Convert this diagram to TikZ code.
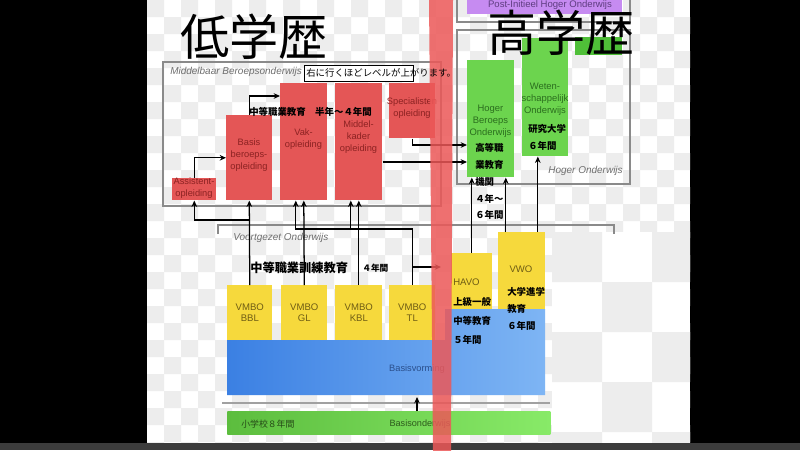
\documentclass[tikz,border=0pt]{standalone}
\usepackage{fontspec}
\setmainfont{Liberation Sans}
\newfontfamily\cjk{Noto Sans CJK JP}
\usetikzlibrary{arrows.meta}

\definecolor{mboRed}{HTML}{E45656}
\definecolor{mboText}{HTML}{8C2222}
\definecolor{hoGreen}{HTML}{6CD44E}
\definecolor{hoDark}{HTML}{4FBF38}
\definecolor{hoText}{HTML}{2B6E1E}
\definecolor{vmboYellow}{HTML}{F6D93C}
\definecolor{vmboText}{HTML}{6E5C14}
\definecolor{bvLeft}{HTML}{3B80E3}
\definecolor{bvRight}{HTML}{7EB5F4}
\definecolor{bvText}{HTML}{2A4F8C}
\definecolor{boLeft}{HTML}{5CBD3E}
\definecolor{boRight}{HTML}{88EA68}
\definecolor{boText}{HTML}{2D5A1C}
\definecolor{postPurple}{HTML}{C68BF1}
\definecolor{postText}{HTML}{5E3C80}
\definecolor{frameGray}{HTML}{8A8A8A}
\definecolor{labelGray}{HTML}{6E6E6E}
\definecolor{checkGray}{HTML}{EDEDED}
\definecolor{bandRed}{HTML}{EC5858}
\definecolor{barGray}{HTML}{3C3C3C}

\begin{document}
\begin{tikzpicture}[x=0.025cm, y=-0.025cm,
    box/.style ={rectangle, inner sep=0pt, anchor=north west},
    redbox/.style ={box, fill=mboRed},
    greenbox/.style ={box, fill=hoGreen},
    yellowbox/.style ={box, fill=vmboYellow, text=vmboText, align=center,
        font=\fontsize{6.8}{8.2}\selectfont},
    frame/.style ={draw=frameGray, line width=0.8pt},
    rtxt/.style ={inner sep=0pt, text=mboText, align=center,
        font=\fontsize{6.6}{8.6}\selectfont},
    gtxt/.style ={inner sep=0pt, text=hoText, align=center,
        font=\fontsize{6.7}{8.4}\selectfont},
    jtxt/.style ={inner sep=0pt, anchor=north west, align=left},
    frametxt/.style ={inner sep=0pt, text=labelGray,
        font=\fontsize{7.1}{8}\selectfont\itshape},
    arr/.style ={line width=0.9pt, -{Stealth[length=4.5pt,width=4pt]}}]
   \useasboundingbox (0,0) rectangle (800,450);
   % screen and checker background
   \fill[black] (0,0) rectangle (800,450);
   \fill[white] (147,0) rectangle (690,443);
   \begin{scope}
      \clip (147,0) rectangle (690,443);
      \foreach \y in {0,34,...,442}
         \foreach \x in {147,181,...,690}
            \fill[checkGray] (\x,\y) rectangle ++(17,17) (\x+17,\y+17) rectangle ++(17,17);
      \fill[white] (552,232) rectangle (690,443);
      \foreach \y in {232,332,432}
         \foreach \x in {552,652}
            \fill[checkGray] (\x,\y) rectangle ++(50,50) (\x+50,\y+50) rectangle ++(50,50);
   \end{scope}
   \fill[barGray] (0,443) rectangle (800,450);

   % frames
   \draw[frame] (457,-3) |- (630,22) -- (630,-3);
   \draw[frame] (457,30) rectangle (630,184);
   \draw[frame] (163,62) rectangle (441,206);
   \draw[frame] (218,234) |- (614,225) -- (614,234);
   \node[frametxt, anchor=west] (mbo-l) at (170,72) {Middelbaar Beroepsonderwijs};
   \node[frametxt, anchor=east] (ho-l) at (623,171) {Hoger Onderwijs};
   \node[frametxt, anchor=west] (vo-l) at (233,238) {Voortgezet Onderwijs};

   % hoger onderwijs
   \node[box, fill=postPurple, minimum width=3.875cm, minimum height=0.4cm] (post) at (467,-2) {};
   \node[inner sep=0pt, text=postText, font=\fontsize{6.8}{8}\selectfont] (post-t) at (550,5) {Post-Initieel Hoger Onderwijs};
   \node[greenbox, minimum width=1.175cm, minimum height=2.925cm] (hbo) at (467,60) {};
   \node[greenbox, minimum width=1.15cm, minimum height=2.95cm] (wo) at (522,38) {};
   \node[box, fill=hoDark, minimum width=1.175cm, minimum height=0.45cm] (extra) at (575,37) {};
   \node[gtxt] (hbo-t) at (490.5,121) {Hoger\\Beroeps\\Onderwijs};
   \node[gtxt] (wo-t) at (545,99) {Weten-\\schappelijk\\Onderwijs};

   % middelbaar beroepsonderwijs
   \node[redbox, minimum width=1.1cm, minimum height=0.55cm] (assist) at (172,178) {};
   \node[redbox, minimum width=1.15cm, minimum height=2.125cm] (basis) at (226,115) {};
   \node[redbox, minimum width=1.175cm, minimum height=2.925cm] (vak) at (280,83) {};
   \node[redbox, minimum width=1.175cm, minimum height=2.925cm] (mk) at (335,83) {};
   \node[redbox, minimum width=1.15cm, minimum height=1.375cm] (spec) at (389,83) {};
   \node[rtxt] (assist-t) at (194,188) {Assistent-\\opleiding};
   \node[rtxt] (basis-t) at (249,155) {Basis\\beroeps-\\opleiding};
   \node[rtxt] (vak-t) at (303.5,139) {Vak-\\opleiding};
   \node[rtxt] (mk-t) at (358.5,137) {Middel-\\kader\\opleiding};
   \node[rtxt] (spec-t) at (412,108) {Specialisten\\opleiding};

   % voortgezet onderwijs
   \node[yellowbox, minimum width=1.125cm, minimum height=1.375cm] (vbbl) at (227,285) {VMBO\\BBL};
   \node[yellowbox, minimum width=1.15cm, minimum height=1.375cm] (vgl) at (281,285) {VMBO\\GL};
   \node[yellowbox, minimum width=1.175cm, minimum height=1.375cm] (vkbl) at (335,285) {VMBO\\KBL};
   \node[yellowbox, minimum width=1.15cm, minimum height=1.375cm] (vtl) at (389,285) {VMBO\\TL};
   \node[yellowbox, minimum width=1.025cm, minimum height=1.4cm] (havo) at (451,253) {};
   \node[yellowbox, minimum width=1.175cm, minimum height=1.95cm] (vwo) at (498,232) {};
   \node[inner sep=0pt, anchor=west, text=vmboText, font=\fontsize{6.8}{8}\selectfont] (havo-t) at (453,282) {HAVO};
   \node[inner sep=0pt, text=vmboText, font=\fontsize{6.8}{8}\selectfont] (vwo-t) at (521,269) {VWO};

   % basisvorming and basisonderwijs
   \path[left color=bvLeft, right color=bvRight] (227,340) -- (445,340) -- (445,309)
      -- (545,309) -- (545,395) -- (227,395) -- cycle;
   \node[inner sep=0pt, text=bvText, font=\fontsize{6.6}{8}\selectfont] (bv) at (417,369) {Basisvorming};
   \draw[draw=frameGray!80, line width=1.2pt] (222,403) -- (550,403);
   \node[box, left color=boLeft, right color=boRight, minimum width=8.075cm, minimum height=0.575cm] (bo) at (227,411) {};
   \node[inner sep=0pt, text=boText, font=\fontsize{6.5}{8}\selectfont] (bo-t) at (420,424) {Basisonderwijs};
   \node[inner sep=0pt, anchor=west, text=boText!80!black, font=\cjk\fontsize{6.3}{8}\selectfont] (bo-j) at (241,424) {小学校８年間};

   % connectors
   \coordinate (vakin) at ([xshift=-0.2cm]vak.south);
   \coordinate (mkin) at ([xshift=-0.2cm]mk.south);
   \coordinate (vwoleft) at ([xshift=-0.4cm]vwo.north);
   \coordinate (vworight) at ([xshift=0.4cm]vwo.north);
   \coordinate (bvbot) at (417,397);
   \draw[arr] (assist.north) |- (basis.west);
   \draw[arr] (basis.north) |- (vak.west |- 0,96);
   \draw[arr] (spec.south) |- (hbo.west |- 0,145);
   \draw[arr] (mk.east |- 0,162) -- (hbo.west |- 0,162);
   \draw[arr] (vbbl.north) -- (basis.south);
   \draw[arr] (vbbl.north |- 0,220) -| (assist.south);
   \draw[arr] (vgl.north) -- (vak.south);
   \draw[arr] (vkbl.north) -- (mk.south);
   \draw[arr] (vtl.north) |- (vakin |- 0,229) -- (vakin);
   \draw[arr] (vtl.north |- 0,229) -| (mkin);
   \draw[arr, shorten >=0.25cm] (vtl.north |- 0,267) -- (havo.west |- 0,267);
   \draw[arr] (havo.north) -- (havo.north |- hbo.south);
   \draw[arr] (vwoleft) -- (vwoleft |- hbo.south);
   \draw[arr] (vworight) -- (vworight |- wo.south);
   \draw[arr] (bo.north -| bvbot) -- (bvbot);

   % japanese notes
   \node[inner sep=0pt, font=\cjk\fontsize{35}{40}\selectfont] (low) at (254,37) {低学歴};
   \node[inner sep=0pt, font=\cjk\fontsize{35}{40}\selectfont] (high) at (561,33) {高学歴};
   \node[inner sep=0pt, anchor=west, font=\cjk\bfseries\fontsize{6.7}{8}\selectfont] (mbo-j) at (249,112) {中等職業教育　半年～４年間};
   \node[inner sep=0pt, anchor=west, font=\cjk\bfseries\fontsize{8.7}{10}\selectfont] (vmbo-j) at (250,268) {中等職業訓練教育};
   \node[inner sep=0pt, anchor=west, font=\cjk\bfseries\fontsize{6.2}{8}\selectfont] (vmbo-y) at (362,268) {４年間};
   \node[jtxt, font=\cjk\bfseries\fontsize{6.7}{12}\selectfont] (hbo-j) at (475,143) {高等職\\業教育\\機関\\４年～\\６年間};
   \node[jtxt, font=\cjk\bfseries\fontsize{6.7}{12}\selectfont] (wo-j) at (528,124) {研究大学\\６年間};
   \node[jtxt, font=\cjk\bfseries\fontsize{6.7}{13.5}\selectfont] (havo-j) at (453,297) {上級一般\\中等教育\\５年間};
   \node[jtxt, font=\cjk\bfseries\fontsize{6.7}{12}\selectfont] (vwo-j) at (507,287) {大学進学\\教育\\６年間};

   % hand drawn red band
   \fill[bandRed, opacity=.85] (429,-1) -- (453,-1) -- (451,451) -- (433,451) -- cycle;

   % note
   \draw[fill=white, line width=0.7pt] (304,65) rectangle (413,81);
   \node[inner sep=0pt, anchor=west, font=\cjk\fontsize{6.7}{8}\selectfont] (note) at (306,73) {右に行くほどレベルが上がります。};
\end{tikzpicture}
\end{document}
